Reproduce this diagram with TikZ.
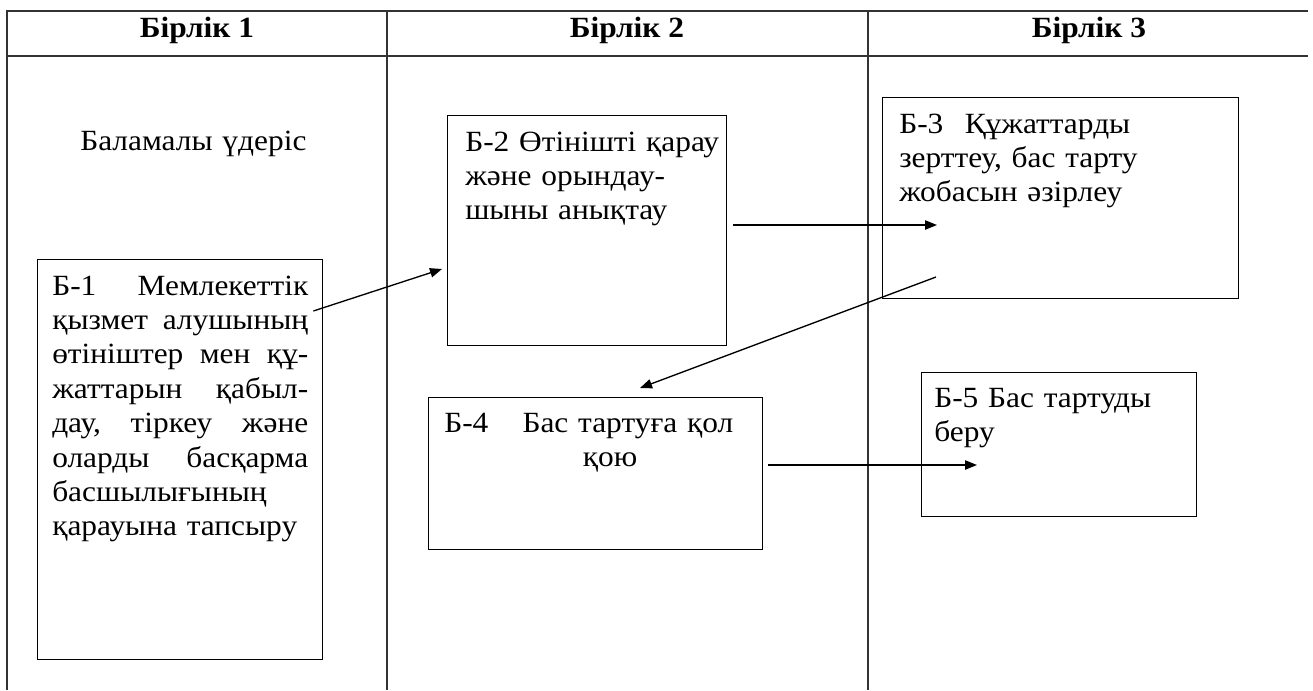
\documentclass[tikz,border=0pt]{standalone}
\usepackage{fontspec}
\setmainfont{Liberation Serif}[FakeStretch=1.07]
\usetikzlibrary{arrows.meta}
\pgfdeclarelayer{background}
\pgfsetlayers{background,main}

\begin{document}
\begin{tikzpicture}[x=0.75pt,y=-0.75pt,
  grid/.style={line width=1.2pt,draw=black!80},
  blok/.style={draw,line width=1pt,anchor=north west,inner sep=0pt},
  txt/.style={anchor=base west,inner sep=0pt,text width=205pt,align=left,font=\fontsize{22}{25.8}\selectfont},
  head/.style={anchor=base,inner sep=0pt,font=\fontsize{22}{24}\selectfont\bfseries},
  arr/.style={line width=1pt,-{Triangle[length=9pt,width=7pt]}}]
\useasboundingbox (0,0) rectangle (1313,690);
\begin{pgfonlayer}{background}
\draw[grid] (1308,11) -- (7,11) -- (7,690);
\draw[grid] (7,56) -- (1308,56);
\draw[grid] (387,11) -- (387,690);
\draw[grid] (868,11) -- (868,690);
\end{pgfonlayer}
\node[head] (h1) at (197,37) {Бірлік 1};
\node[head] (h2) at (627,37) {Бірлік 2};
\node[head] (h3) at (1089,37) {Бірлік 3};
\node[txt] (alt) at (80,150) {Баламалы үдеріс};
\node[blok,minimum width=213.75pt,minimum height=300pt] (b1) at (37,259) {};
\node[blok,minimum width=209.25pt,minimum height=172.5pt] (b2) at (447,115) {};
\node[blok,minimum width=267pt,minimum height=150.75pt] (b3) at (882,97) {};
\node[blok,minimum width=250.5pt,minimum height=114pt] (b4) at (428,397) {};
\node[blok,minimum width=206.25pt,minimum height=108pt] (b5) at (921,372) {};
\node[txt] (t1) at ([shift={(15,36)}]b1.north west)
  {\makebox[192pt][l]{Б-1\hfill Мемлекеттік}\\
   \makebox[192pt][l]{қызмет\hfill алушының}\\
   \makebox[192pt][l]{өтініштер\hfill мен\hfill құ-}\\
   \makebox[192pt][l]{жаттарын\hfill қабыл-}\\
   \makebox[192pt][l]{дау,\hfill тіркеу\hfill және}\\
   \makebox[192pt][l]{оларды\hfill басқарма}\\
   басшылығының\\
   қарауына тапсыру};
\node[txt] (t2) at ([shift={(18,36)}]b2.north west)
  {Б-2 Өтінішті қарау\\ және орындау-\\ шыны анықтау};
\node[txt] (t3) at ([shift={(17,36)}]b3.north west)
  {Б-3\hspace{16pt}Құжаттарды\\ зерттеу, бас тарту\\ жобасын әзірлеу};
\node[txt,text width=216.75pt] (t4) at ([shift={(16,35)}]b4.north west)
  {Б-4\hfill Бас тартуға қол\\ \hspace*{104pt}қою};
\node[txt] (t5) at ([shift={(13,35)}]b5.north west)
  {Б-5 Бас тартуды\\ беру};
\draw[arr] ([shift={(-10,52)}]b1.north east) -- ([shift={(-5,154)}]b2.north west);
\draw[arr] ([shift={(6,110)}]b2.north east) -- ([shift={(55,128)}]b3.north west);
\draw[arr] ([shift={(54,180)}]b3.north west) -- ([shift={(212,-9)}]b4.north west);
\draw[arr] ([shift={(5,68)}]b4.north east) -- ([shift={(56,93)}]b5.north west);
\end{tikzpicture}
\end{document}
